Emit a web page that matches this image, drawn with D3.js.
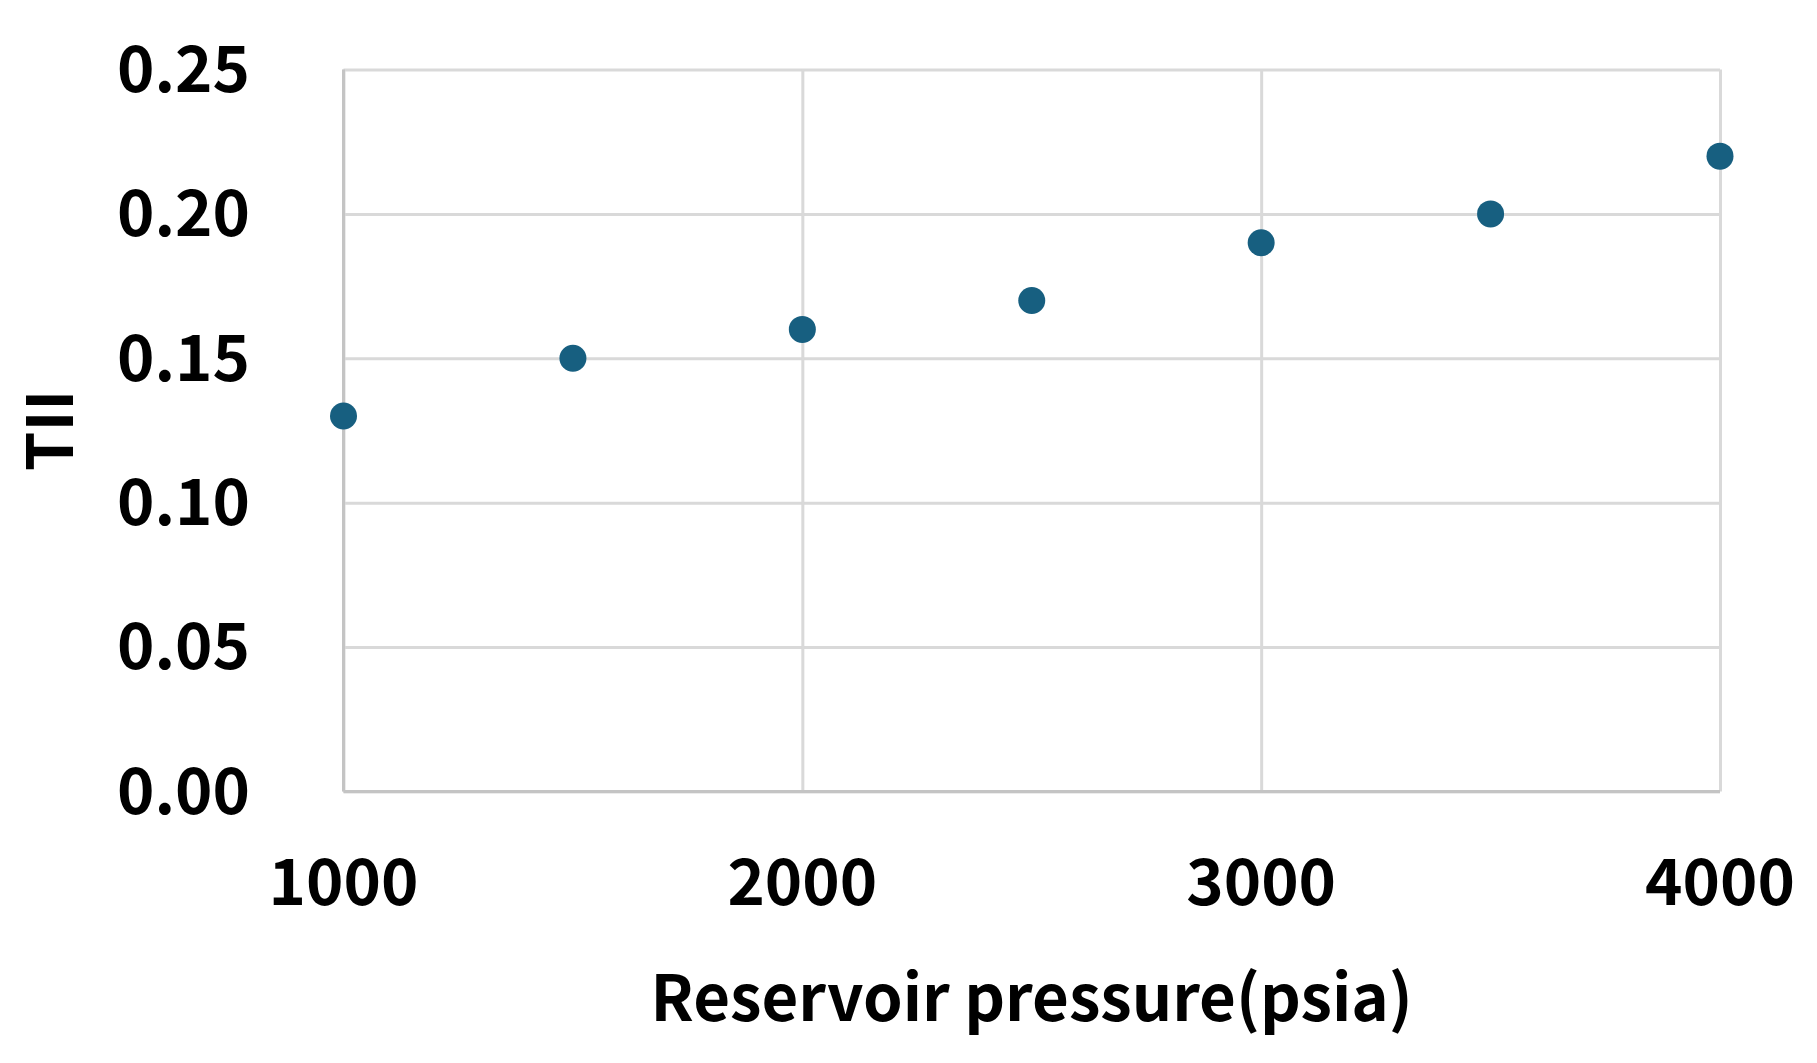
<!DOCTYPE html>
<html><head><meta charset="utf-8">
<script src="https://cdn.jsdelivr.net/npm/d3@7"></script>
<style>body{margin:0;background:#fff}svg{display:block}</style>
</head><body>
<script>
const pressure = [1000, 1500, 2000, 2500, 3000, 3500, 4000];
const tii = [0.13, 0.15, 0.16, 0.17, 0.19, 0.20, 0.22];
const xTicks = [1000, 2000, 3000, 4000];
const yTicks = [0, 0.05, 0.10, 0.15, 0.20, 0.25];
const xTitle = "Reservoir pressure(psia)";
const yTitle = "TII";

const W = 1817, H = 1063;
const m = {left: 343.5, right: 1720, top: 69.5, bottom: 791.5};
const font = "'Noto Sans CJK KR','Noto Sans',sans-serif";
const svg = d3.select("body").append("svg").attr("width", W).attr("height", H);
const x = d3.scaleLinear().domain([1000, 4000]).range([m.left, m.right]);
const y = d3.scaleLinear().domain([0, 0.25]).range([m.bottom, m.top]);

// grid
const gy = svg.append("g").attr("transform", `translate(${m.left},0)`)
  .call(d3.axisLeft(y).tickValues(yTicks).tickSize(-(m.right - m.left)).tickFormat(""));
gy.select(".domain").remove();
gy.selectAll(".tick line").attr("stroke", "#d9d9d9").attr("stroke-width", 3);
const gx = svg.append("g").attr("transform", `translate(0,${m.bottom})`)
  .call(d3.axisBottom(x).tickValues(xTicks).tickSize(-(m.bottom - m.top)).tickFormat(""));
gx.select(".domain").remove();
gx.selectAll(".tick line").attr("stroke", "#d9d9d9").attr("stroke-width", 3);

// axis lines
svg.append("line").attr("x1", x(1000)).attr("x2", x(4000)).attr("y1", y(0)).attr("y2", y(0))
  .attr("stroke", "#c4c4c4").attr("stroke-width", 3);
svg.append("line").attr("x1", x(1000)).attr("x2", x(1000)).attr("y1", y(0)).attr("y2", y(0.25))
  .attr("stroke", "#c4c4c4").attr("stroke-width", 3);

// tick labels
svg.append("g").selectAll("text").data(yTicks).join("text")
  .attr("x", 250).attr("y", d => y(d)).attr("dy", "0.35em")
  .attr("text-anchor", "end").attr("font-family", font).attr("font-weight", "bold")
  .attr("font-size", 63.5).attr("fill", "#000").text(d => d3.format(".2f")(d));
svg.append("g").selectAll("text").data(xTicks).join("text")
  .attr("x", d => x(d)).attr("y", 905)
  .attr("text-anchor", "middle").attr("font-family", font).attr("font-weight", "bold")
  .attr("font-size", 63.5).attr("fill", "#000").text(d => d);

// titles
svg.append("text").attr("x", (m.left + m.right) / 2).attr("y", 1021)
  .attr("text-anchor", "middle").attr("font-family", font).attr("font-weight", "bold")
  .attr("font-size", 63.5).attr("fill", "#000").text(xTitle);
svg.append("text").attr("transform", `translate(73,${(m.top + m.bottom) / 2}) rotate(-90)`)
  .attr("text-anchor", "middle").attr("font-family", font).attr("font-weight", "bold")
  .attr("font-size", 63.5).attr("fill", "#000").text(yTitle);

// points
svg.append("g").selectAll("circle").data(pressure).join("circle")
  .attr("cx", d => x(d)).attr("cy", (d, i) => y(tii[i])).attr("r", 13.5)
  .attr("fill", "#175f80");
</script>
</body></html>
